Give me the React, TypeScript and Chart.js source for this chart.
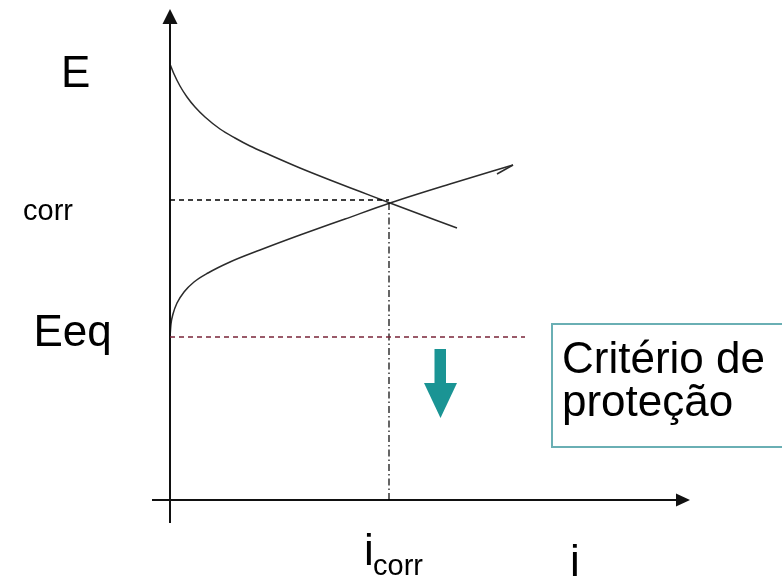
import React, { useEffect, useRef } from "react";
import { Chart, registerables } from "chart.js";

Chart.register(...registerables);

// Evans diagram — current density i (x) vs potential E (y), arbitrary units
const cathodicI = [0, 0.4, 1, 1.7, 2.5, 3.5, 5, 6.5, 8, 10, 13, 16, 19, 22, 28.7];
const cathodicE = [43.6, 42.6, 41.4, 40.3, 39.3, 38.3, 37.1, 36.2, 35.4, 34.5, 33.2, 32, 30.85, 29.7, 27.2];

const anodicI = [0, 0.1, 0.3, 0.7, 1.4, 2.4, 3.8, 6, 9, 13, 17.5, 22, 28, 34.3];
const anodicE = [16.3, 17.6, 18.6, 19.7, 20.8, 21.8, 22.7, 23.8, 25, 26.5, 28.1, 29.7, 31.6, 33.5];

const barbI = [32.7, 34.3];
const barbE = [32.6, 33.5];

const E_CORR = 30;
const I_CORR = 21.9;
const E_EQ = 16.3;
const EQ_LINE_END = 35.5;

const yAxisSpan = [-2.3, 47.6];
const xAxisSpan = [-1.8, 50.6];

const textE = "E";
const textEcorr = "corr";
const textEeq = "Eeq";
const textIcorr = "i";
const textIcorrSub = "corr";
const textI = "i";
const boxLines = ["Critério de", "proteção"];

const pts = (xs: number[], ys: number[]) => xs.map((x, k) => ({ x, y: ys[k] }));

const FONT = "'Liberation Sans', Arial, sans-serif";

const overlay = {
  id: "overlay",
  afterDatasetsDraw(chart: any) {
    const ctx = chart.ctx as CanvasRenderingContext2D;
    const xs = chart.scales.x;
    const ys = chart.scales.y;
    const px = (v: number) => xs.getPixelForValue(v);
    const py = (v: number) => ys.getPixelForValue(v);
    ctx.save();

    // axis arrowheads
    ctx.fillStyle = "#111";
    ctx.beginPath();
    ctx.moveTo(px(0), py(49.1));
    ctx.lineTo(px(0) - 7.5, py(yAxisSpan[1]));
    ctx.lineTo(px(0) + 7.5, py(yAxisSpan[1]));
    ctx.closePath();
    ctx.fill();
    ctx.beginPath();
    ctx.moveTo(px(52), py(0));
    ctx.lineTo(px(xAxisSpan[1]), py(0) - 6.5);
    ctx.lineTo(px(xAxisSpan[1]), py(0) + 6.5);
    ctx.closePath();
    ctx.fill();

    // teal protection arrow
    ctx.fillStyle = "#1a9494";
    ctx.fillRect(px(26.45), py(15.1), px(27.6) - px(26.45), py(11.7) - py(15.1));
    ctx.beginPath();
    ctx.moveTo(px(25.4), py(11.7));
    ctx.lineTo(px(28.7), py(11.7));
    ctx.lineTo(px(27.05), py(8.2));
    ctx.closePath();
    ctx.fill();

    // box
    ctx.fillStyle = "#ffffff";
    ctx.strokeStyle = "#6aafb4";
    ctx.lineWidth = 2;
    const bx = px(38.2), by = py(17.6);
    const bw = px(63) - bx, bh = py(5.3) - by;
    ctx.fillRect(bx, by, bw, bh);
    ctx.strokeRect(bx, by, bw, bh);

    // texts
    ctx.fillStyle = "#000";
    ctx.textBaseline = "alphabetic";
    ctx.textAlign = "left";
    ctx.font = `44px ${FONT}`;
    ctx.fillText(textE, px(-10.9), py(41.3));
    ctx.fillText(textEeq, px(-13.65), py(15.4));
    ctx.fillText(boxLines[0], px(39.2), py(12.7));
    ctx.fillText(boxLines[1], px(39.2), py(8.4));
    ctx.fillText(textIcorr, px(19.4), py(-6.5));
    ctx.fillText(textI, px(40), py(-7.6));
    ctx.font = `29px ${FONT}`;
    ctx.fillText(textEcorr, px(-14.7), py(28));
    ctx.fillText(textIcorrSub, px(20.3), py(-7.5));
    ctx.restore();
  },
};

export default function App() {
  const ref = useRef<HTMLCanvasElement | null>(null);
  useEffect(() => {
    if (!ref.current) return;
    const chart = new Chart(ref.current, {
      type: "line",
      data: {
        datasets: [
          {
            data: [{ x: 0, y: E_CORR }, { x: I_CORR, y: E_CORR }],
            borderColor: "#000",
            borderWidth: 1.3,
            borderDash: [5, 4],
            pointRadius: 0,
          },
          {
            data: [{ x: 0, y: E_EQ }, { x: EQ_LINE_END, y: E_EQ }],
            borderColor: "#7a2438",
            borderWidth: 1.3,
            borderDash: [5, 4],
            pointRadius: 0,
          },
          {
            data: [{ x: I_CORR, y: E_CORR - 0.3 }, { x: I_CORR, y: 0 }],
            borderColor: "#000",
            borderWidth: 1.2,
            borderDash: [7, 3, 1.5, 3],
            pointRadius: 0,
          },
          {
            data: [{ x: 0, y: yAxisSpan[0] }, { x: 0, y: yAxisSpan[1] }],
            borderColor: "#111",
            borderWidth: 2,
            pointRadius: 0,
          },
          {
            data: [{ x: xAxisSpan[0], y: 0 }, { x: xAxisSpan[1], y: 0 }],
            borderColor: "#111",
            borderWidth: 2,
            pointRadius: 0,
          },
          {
            data: pts(cathodicI, cathodicE),
            borderColor: "#2b2b2b",
            borderWidth: 1.5,
            pointRadius: 0,
            cubicInterpolationMode: "monotone",
          },
          {
            data: pts(anodicI, anodicE),
            borderColor: "#2b2b2b",
            borderWidth: 1.5,
            pointRadius: 0,
            cubicInterpolationMode: "monotone",
          },
          {
            data: pts(barbI, barbE),
            borderColor: "#2b2b2b",
            borderWidth: 1.5,
            pointRadius: 0,
          },
        ],
      },
      options: {
        animation: false,
        responsive: false,
        devicePixelRatio: 1,
        layout: { padding: 0 },
        plugins: { legend: { display: false }, tooltip: { enabled: false } },
        events: [],
        scales: {
          x: { type: "linear", min: -17, max: 61.2, display: false },
          y: { type: "linear", min: -7.7, max: 50, display: false },
        },
      },
      plugins: [overlay],
    } as any);
    return () => chart.destroy();
  }, []);
  return (
    <div style={{ position: "absolute", left: 0, top: 0, width: 782, height: 577, background: "#fff" }}>
      <canvas ref={ref} width={782} height={577} style={{ display: "block" }} />
    </div>
  );
}
